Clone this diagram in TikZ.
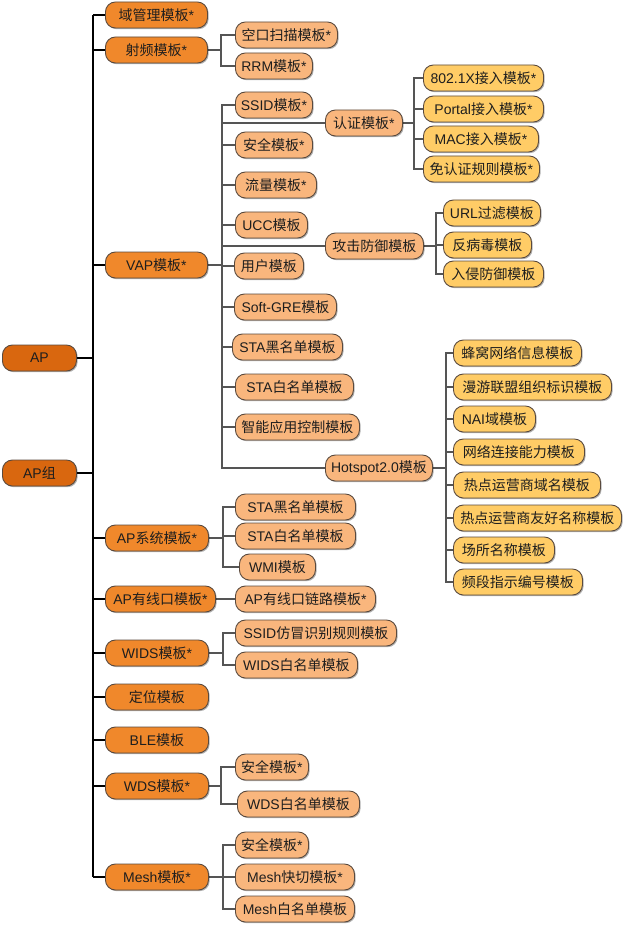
\documentclass[tikz,border=0pt]{standalone}
\usepackage{fontspec}
\setmainfont{Liberation Sans}
\newfontfamily\cjkfont{Noto Sans CJK SC}
\usetikzlibrary{shadows,backgrounds}
\newcommand\zh[1]{{\cjkfont #1}}
\definecolor{czero}{HTML}{D9670F}
\definecolor{cone}{HTML}{F0882B}
\definecolor{ctwo}{HTML}{F9B67D}
\definecolor{cthree}{HTML}{FFCC66}
\definecolor{bordc}{HTML}{5A4A3E}
\definecolor{txtc}{HTML}{1E1E1E}
\definecolor{linec}{HTML}{555555}
\tikzset{
  box/.style={draw=bordc, line width=0.9pt, rounded corners=10pt, minimum height=26pt,
    inner sep=0pt, anchor=west, text=txtc, font=\fontsize{14}{16}\selectfont,
    drop shadow={shadow xshift=1.2pt, shadow yshift=-1.2pt, opacity=0.3, fill=black}},
  lzero/.style={box, fill=czero},
  lone/.style={box, fill=cone},
  ltwo/.style={box, fill=ctwo},
  lthree/.style={box, fill=cthree},
  conn/.style={draw=linec, line width=1.3pt},
  trunkl/.style={draw=black, line width=2pt},
}
\begin{document}
\begin{tikzpicture}[x=1pt,y=-1pt]
\useasboundingbox (0,0) rectangle (623,925);
% level 0
\node[lzero, minimum width=74pt] (ap) at (2,358) {AP};
\node[lzero, minimum width=74pt] (apg) at (2,473) {AP\zh{组}};
% level 1
\node[lone, minimum width=102pt] (dom) at (105,15) {\zh{域管理模板}*};
\node[lone, minimum width=102pt] (rf) at (105,50) {\zh{射频模板}*};
\node[lone, minimum width=102pt] (vap) at (105,265) {VAP\zh{模板}*};
\node[lone, minimum width=103pt] (sys) at (105,538) {AP\zh{系统模板}*};
\node[lone, minimum width=110pt] (wired) at (105,599) {AP\zh{有线口模板}*};
\node[lone, minimum width=103pt] (wids) at (105,653) {WIDS\zh{模板}*};
\node[lone, minimum width=103pt] (loc) at (105,697) {\zh{定位模板}};
\node[lone, minimum width=103pt] (ble) at (105,740) {BLE\zh{模板}};
\node[lone, minimum width=103pt] (wds) at (105,786) {WDS\zh{模板}*};
\node[lone, minimum width=103pt] (mesh) at (105,877) {Mesh\zh{模板}*};
% level 2
\node[ltwo, minimum width=102pt] (scan) at (235,35) {\zh{空口扫描模板}*};
\node[ltwo, minimum width=77pt] (rrm) at (235,66) {RRM\zh{模板}*};
\node[ltwo, minimum width=77pt] (ssid) at (235,105) {SSID\zh{模板}*};
\node[ltwo, minimum width=77pt] (auth) at (325,123) {\zh{认证模板}*};
\node[ltwo, minimum width=77pt] (sec) at (235,145) {\zh{安全模板}*};
\node[ltwo, minimum width=81pt] (flow) at (235,185) {\zh{流量模板}*};
\node[ltwo, minimum width=72pt] (ucc) at (235,225) {UCC\zh{模板}};
\node[ltwo, minimum width=98pt] (atk) at (325,246) {\zh{攻击防御模板}};
\node[ltwo, minimum width=69pt] (user) at (234,266) {\zh{用户模板}};
\node[ltwo, minimum width=102pt] (gre) at (234,307) {Soft-GRE\zh{模板}};
\node[ltwo, minimum width=110pt] (blk) at (232,347) {STA\zh{黑名单模板}};
\node[ltwo, minimum width=118pt] (wht) at (235,387) {STA\zh{白名单模板}};
\node[ltwo, minimum width=124pt] (app) at (235,427) {\zh{智能应用控制模板}};
\node[ltwo, minimum width=107pt] (hs) at (325,468) {Hotspot2.0\zh{模板}};
\node[ltwo, minimum width=120pt] (sblk) at (235,507) {STA\zh{黑名单模板}};
\node[ltwo, minimum width=120pt] (swht) at (235,536) {STA\zh{白名单模板}};
\node[ltwo, minimum width=76pt] (wmi) at (239,567) {WMI\zh{模板}};
\node[ltwo, minimum width=140pt] (link) at (235,599) {AP\zh{有线口链路模板}*};
\node[ltwo, minimum width=161pt] (spoof) at (235,633) {SSID\zh{仿冒识别规则模板}};
\node[ltwo, minimum width=122pt] (widsw) at (235,665) {WIDS\zh{白名单模板}};
\node[ltwo, minimum width=73pt] (wsec) at (235,767) {\zh{安全模板}*};
\node[ltwo, minimum width=122pt] (wdsw) at (237,804) {WDS\zh{白名单模板}};
\node[ltwo, minimum width=73pt] (msec) at (235,845) {\zh{安全模板}*};
\node[ltwo, minimum width=119pt] (mfast) at (235,877) {Mesh\zh{快切模板}*};
\node[ltwo, minimum width=119pt] (mw) at (235,909) {Mesh\zh{白名单模板}};
% level 3
\node[lthree, minimum width=120pt] (xa) at (423,78) {802.1X\zh{接入模板}*};
\node[lthree, minimum width=120pt] (portal) at (423,109) {Portal\zh{接入模板}*};
\node[lthree, minimum width=115pt] (mac) at (423,139) {MAC\zh{接入模板}*};
\node[lthree, minimum width=116pt] (free) at (423,169) {\zh{免认证规则模板}*};
\node[lthree, minimum width=97pt] (url) at (443,213) {URL\zh{过滤模板}};
\node[lthree, minimum width=88pt] (av) at (443,245) {\zh{反病毒模板}};
\node[lthree, minimum width=100pt] (ips) at (443,274) {\zh{入侵防御模板}};
\node[lthree, minimum width=128pt] (ha) at (453,353) {\zh{蜂窝网络信息模板}};
\node[lthree, minimum width=158pt] (hb) at (453,387) {\zh{漫游联盟组织标识模板}};
\node[lthree, minimum width=82pt] (hc) at (453,419) {NAI\zh{域模板}};
\node[lthree, minimum width=131pt] (hd) at (453,452) {\zh{网络连接能力模板}};
\node[lthree, minimum width=147pt] (he) at (453,485) {\zh{热点运营商域名模板}};
\node[lthree, minimum width=168pt] (hf) at (453,518) {\zh{热点运营商友好名称模板}};
\node[lthree, minimum width=101pt] (hg) at (453,550) {\zh{场所名称模板}};
\node[lthree, minimum width=129pt] (hh) at (453,582) {\zh{频段指示编号模板}};
% connectors
\begin{scope}[on background layer]
\coordinate (tk) at (93,0);
\draw[trunkl] (tk |- dom.west) -- (tk |- mesh.west);
\draw[trunkl] (ap.east) -- (ap.east -| tk);
\draw[trunkl] (apg.east) -- (apg.east -| tk);
\foreach \n in {dom,rf,vap,sys,wired,wids,loc,ble,wds,mesh}
  \draw[trunkl] (tk |- \n.west) -- (\n.west);
\foreach \n in {scan,rrm} \draw[conn] (rf.east) -- ++(13,0) |- (\n.west);
\foreach \n in {ssid,auth,sec,flow,ucc,atk,user,gre,blk,wht,app,hs}
  \draw[conn] (vap.east) -- ++(14,0) |- (\n.west);
\foreach \n in {xa,portal,mac,free} \draw[conn] (auth.east) -- ++(11,0) |- (\n.west);
\foreach \n in {url,av,ips} \draw[conn] (atk.east) -- ++(12,0) |- (\n.west);
\foreach \n in {ha,hb,hc,hd,he,hf,hg,hh} \draw[conn] (hs.east) -- ++(13,0) |- (\n.west);
\foreach \n in {sblk,swht,wmi} \draw[conn] (sys.east) -- ++(14,0) |- (\n.west);
\draw[conn] (wired.east) -- (link.west);
\foreach \n in {spoof,widsw} \draw[conn] (wids.east) -- ++(14,0) |- (\n.west);
\foreach \n in {wsec,wdsw} \draw[conn] (wds.east) -- ++(12,0) |- (\n.west);
\foreach \n in {msec,mfast,mw} \draw[conn] (mesh.east) -- ++(14,0) |- (\n.west);
\end{scope}
\end{tikzpicture}
\end{document}
